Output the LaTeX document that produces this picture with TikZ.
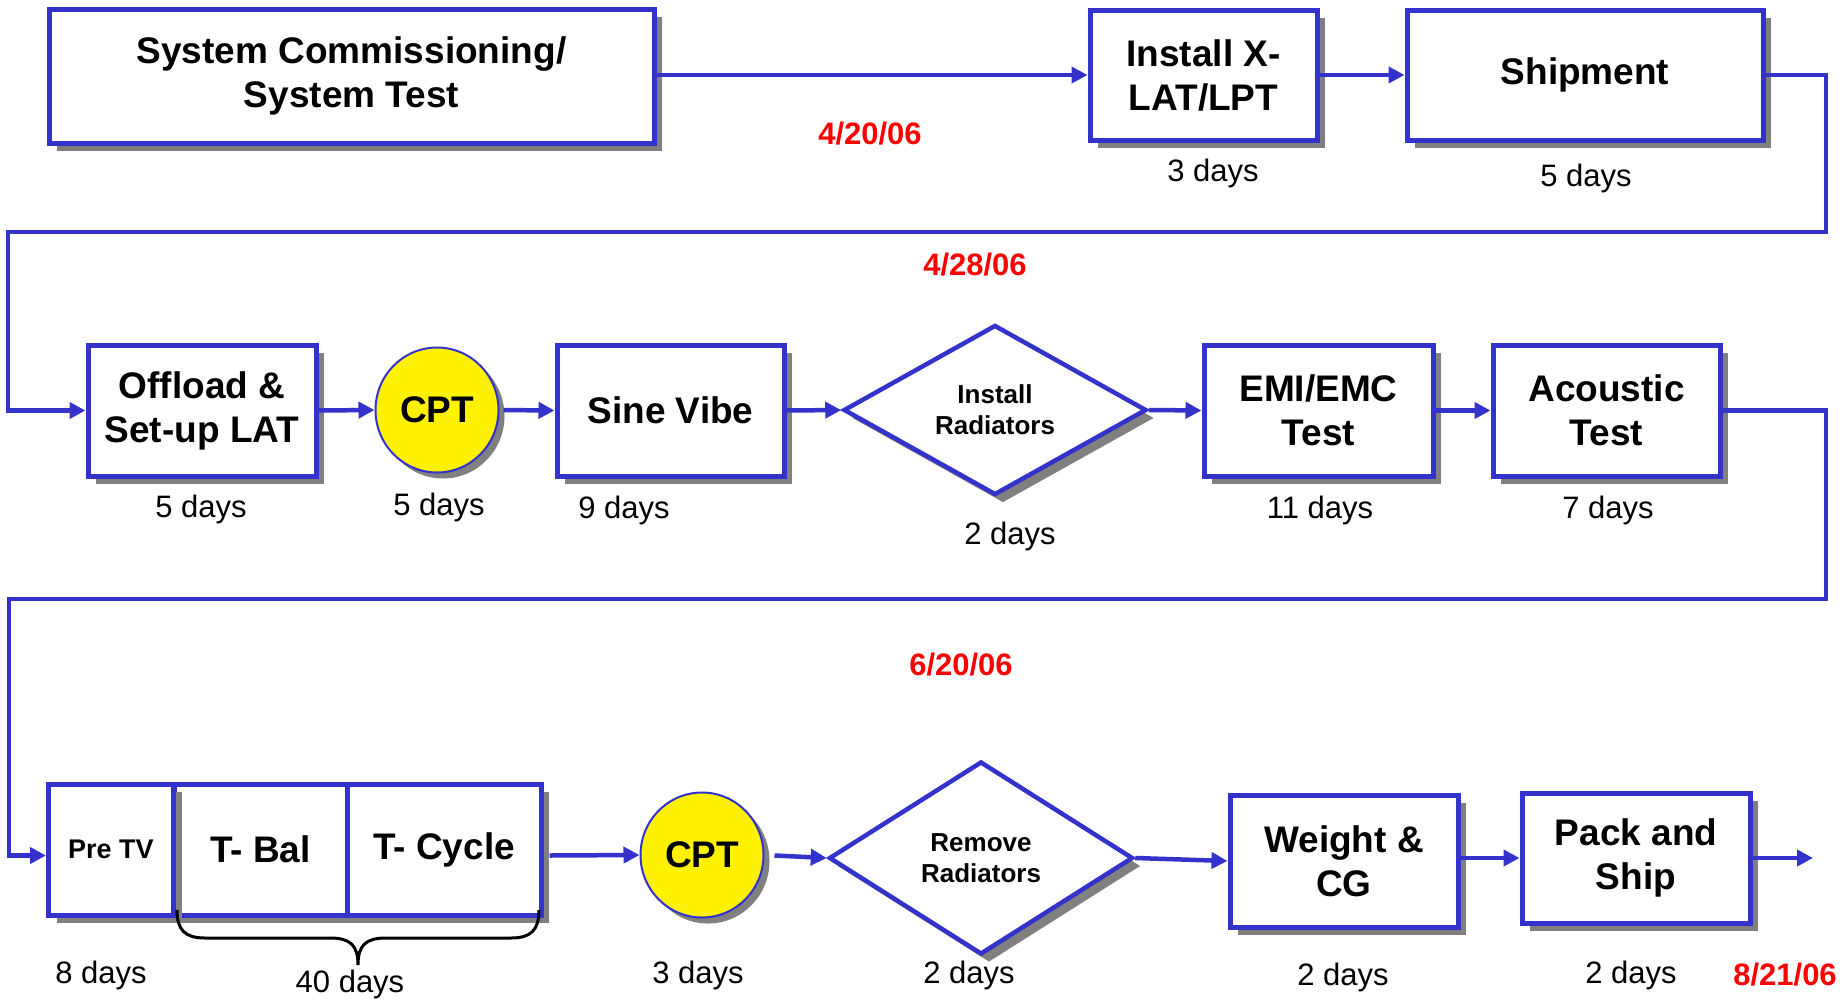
\documentclass[tikz,border=0pt]{standalone}
\usepackage{fontspec}
\setmainfont{Liberation Sans}
\usetikzlibrary{shapes.geometric,arrows.meta,shadows}
\definecolor{lblue}{RGB}{51,51,204}
\definecolor{shad}{RGB}{128,128,128}
\begin{document}
\begin{tikzpicture}[x=1pt,y=-1pt,
  shd/.style={drop shadow={shadow xshift=8pt,shadow yshift=-8pt,fill=shad,opacity=1}},
  box/.style={shd,draw=lblue,line width=5pt,fill=white,minimum height=131pt,inner sep=0pt,
    align=center,font=\fontsize{37}{44}\selectfont\bfseries},
  cpt/.style={drop shadow={shadow xshift=6pt,shadow yshift=-6pt,fill=shad,opacity=1},
    ellipse,draw=lblue,line width=2pt,fill=yellow,minimum width=123pt,minimum height=125pt,
    inner sep=0pt,font=\fontsize{37}{44}\selectfont\bfseries},
  dia/.style={shd,diamond,draw=lblue,line width=4.5pt,fill=white,inner sep=0pt,align=center,
    font=\fontsize{26}{31}\selectfont\bfseries},
  days/.style={font=\fontsize{31}{37}\selectfont},
  datelbl/.style={font=\fontsize{31}{37}\selectfont\bfseries,text=red},
  conn/.style={draw=lblue,line width=4.5pt,-{Triangle[length=16pt,width=16pt]}}
]
\useasboundingbox (0,0) rectangle (1846,1001);

% row 1
\node[box,minimum width=605pt,minimum height=134pt] (sys) at (351.5,76) {System Commissioning/\\System Test};
\node[box,minimum width=227pt,minimum height=130pt] (inst) at (1203.5,75) {Install X-\\LAT/LPT};
\node[box,minimum width=356pt,minimum height=130pt] (ship) at (1585,75) {Shipment};
\node[days] (d1) at (1213,173) {3 days};
\node[days] (d2) at (1586,178) {5 days};
\node[datelbl] (t1) at (870,134) {4/20/06};
\node[datelbl] (t2) at (975,265) {4/28/06};

% row 2
\node[box,minimum width=228pt] (off) at (202,410.5) {Offload \&\\Set-up LAT};
\node[cpt] (cpt1) at (437,410) {CPT};
\node[box,minimum width=227pt] (sine) at (670.5,410.5) {Sine Vibe};
\node[dia,minimum width=303pt,minimum height=168pt] (inrad) at (995,410) {Install\\Radiators};
\node[box,minimum width=229pt] (emi) at (1318.5,410.5) {EMI/EMC\\Test};
\node[box,minimum width=227pt] (acou) at (1606.5,410.5) {Acoustic\\Test};
\node[days] (d3) at (201,509) {5 days};
\node[days] (d4) at (439,507) {5 days};
\node[days] (d5) at (624,510) {9 days};
\node[days] (d6) at (1010,536) {2 days};
\node[days] (d7) at (1320,510) {11 days};
\node[days] (d8) at (1608,510) {7 days};
\node[datelbl] (t3) at (961,665) {6/20/06};

% row 3
\node[box,minimum width=173pt] (tbal) at (260.5,849.5) {T- Bal};
\node[box,minimum width=194pt] (tcyc) at (444,849.5) {T- Cycle};
\node[box,minimum width=125pt,font=\fontsize{27}{32}\selectfont\bfseries] (pretv) at (111,849.5) {Pre TV};
\node[cpt] (cpt2) at (702,855) {CPT};
\node[dia,minimum width=304pt,minimum height=193pt] (remrad) at (981,858) {Remove\\Radiators};
\node[box,minimum width=228pt,minimum height=132pt] (weight) at (1344,861) {Weight \&\\CG};
\node[box,minimum width=228pt,minimum height=130pt] (pack) at (1636,858) {Pack and\\Ship};
\node[days] (d9) at (101,975) {8 days};
\node[days] (d10) at (350,984) {40 days};
\node[days] (d11) at (698,975) {3 days};
\node[days] (d12) at (969,975) {2 days};
\node[days] (d13) at (1343,977) {2 days};
\node[days] (d14) at (1631,975) {2 days};
\node[datelbl] (t4) at (1785,975) {8/21/06};

% brace
\draw[line width=3pt] (177,910) .. controls (177,930) and (185,938) .. (205,938) -- (330,938)
  .. controls (350,938) and (358,945) .. (358,965)
  .. controls (358,945) and (366,938) .. (386,938) -- (511,938)
  .. controls (531,938) and (539,930) .. (539,910);

% wrap coordinates
\coordinate (r1) at (1826,232);
\coordinate (l1) at (8,232);
\coordinate (r2) at (1826,599);
\coordinate (l2) at (9,599);
\coordinate (fin) at (1813,858);

% connectors
\draw[conn] (sys.east |- inst.west) -- (inst.west);
\draw[conn] (inst.east) -- (ship.west);
\draw[conn] (ship.east) -| (r1) -- (l1) |- (off.west);
\draw[conn] (off.east) -- (cpt1.west);
\draw[conn,shorten <=4pt] (cpt1.east) -- (sine.west);
\draw[conn] (sine.east) -- (inrad.west);
\draw[conn] (inrad.east) -- (emi.west);
\draw[conn] (emi.east) -- (acou.west);
\draw[conn] (acou.east) -| (r2) -- (l2) |- ([yshift=-6pt]pretv.west);
\draw[conn] ([yshift=-6pt,xshift=6pt]tcyc.east) -- (cpt2.west);
\draw[conn,shorten <=10pt] (cpt2.east) -- (remrad.west);
\draw[conn] (remrad.east) -- (weight.west);
\draw[conn] (weight.east |- pack.west) -- (pack.west);
\draw[conn] (pack.east) -- (fin);
\end{tikzpicture}
\end{document}
